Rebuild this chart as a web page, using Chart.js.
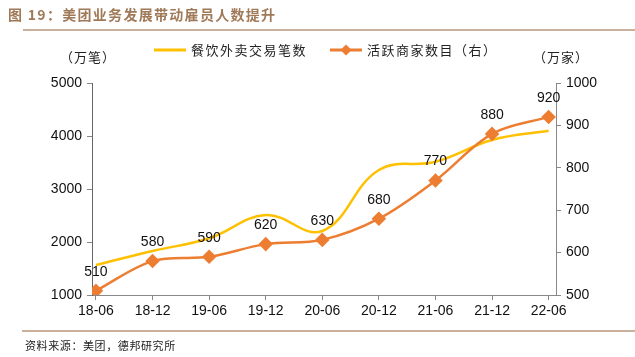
<!DOCTYPE html>
<html>
<head>
<meta charset="utf-8">
<script src="https://cdn.jsdelivr.net/npm/chart.js@4.4.1/dist/chart.umd.min.js"></script>
<style>
html,body{margin:0;padding:0;background:#fff;}
#wrap{width:635px;height:357px;position:relative;}
</style>
</head>
<body>
<div id="wrap"><canvas id="c" width="635" height="357"></canvas></div>
<script>
const categories = ['18-06','18-12','19-06','19-12','20-06','20-12','21-06','21-12','22-06'];
const ordersSeries = [1566, 1830, 2070, 2510, 2208, 3358, 3515, 3925, 4100];
const merchantsSeries = [510, 580, 590, 620, 630, 680, 770, 880, 920];
const leftTicks = [1000, 2000, 3000, 4000, 5000];
const rightTicks = [500, 600, 700, 800, 900, 1000];
const seriesNames = ['餐饮外卖交易笔数', '活跃商家数目（右）'];
const titleText = '图 19：美团业务发展带动雇员人数提升';
const sourceText = '资料来源：美团，德邦研究所';
const leftUnit = '（万笔）';
const rightUnit = '（万家）';

const YELLOW = '#FFC000';
const ORANGE = '#ED7D31';
const BROWN = '#A07A58';
const NUMFONT = '"Liberation Sans", Arial, sans-serif';
const CJKFONT = '"Noto Sans CJK SC", sans-serif';

function spaced(ctx, text, x, y, sp) {
  let cx = x;
  for (const ch of text) {
    ctx.fillText(ch, cx, y);
    cx += ctx.measureText(ch).width + sp;
  }
  return cx;
}

const decor = {
  id: 'decor',
  afterDraw(chart) {
    const ctx = chart.ctx;
    ctx.save();
    // title
    ctx.fillStyle = BROWN;
    ctx.font = 'bold 14px ' + CJKFONT;
    ctx.textBaseline = 'middle';
    ctx.textAlign = 'left';
    spaced(ctx, titleText, 8, 15, 1.3);
    ctx.strokeStyle = '#B8977A';
    ctx.lineWidth = 1.5;
    ctx.beginPath(); ctx.moveTo(23, 30); ctx.lineTo(635, 30); ctx.stroke();
    ctx.beginPath(); ctx.moveTo(22, 331); ctx.lineTo(635, 331); ctx.stroke();
    // source
    ctx.fillStyle = '#222';
    ctx.font = '11px ' + CJKFONT;
    spaced(ctx, sourceText, 25, 346, 0.6);
    // units
    ctx.font = '13px ' + CJKFONT;
    ctx.fillStyle = '#222';
    spaced(ctx, leftUnit, 60, 57, 1);
    spaced(ctx, rightUnit, 533, 57, 1);
    // legend
    ctx.lineWidth = 3;
    ctx.strokeStyle = YELLOW;
    ctx.beginPath(); ctx.moveTo(154, 50); ctx.lineTo(186, 50); ctx.stroke();
    ctx.font = '13px ' + CJKFONT;
    ctx.fillStyle = '#222';
    spaced(ctx, seriesNames[0], 191, 50, 1.5);
    ctx.strokeStyle = ORANGE;
    ctx.beginPath(); ctx.moveTo(330, 50); ctx.lineTo(362, 50); ctx.stroke();
    ctx.fillStyle = ORANGE;
    ctx.beginPath(); ctx.moveTo(346, 44.5); ctx.lineTo(351.5, 50); ctx.lineTo(346, 55.5); ctx.lineTo(340.5, 50); ctx.closePath(); ctx.fill();
    ctx.fillStyle = '#222';
    spaced(ctx, seriesNames[1], 367, 50, 1.5);
    // data labels
    const meta = chart.getDatasetMeta(1);
    ctx.font = '14px ' + NUMFONT;
    ctx.fillStyle = '#111';
    ctx.textAlign = 'center';
    ctx.textBaseline = 'middle';
    meta.data.forEach((pt, i) => {
      ctx.fillText(String(merchantsSeries[i]), pt.x, pt.y - 19);
    });
    ctx.restore();
  }
};

new Chart(document.getElementById('c'), {
  type: 'line',
  data: {
    datasets: [
      {
        label: seriesNames[0],
        data: ordersSeries.map((v, i) => ({x: i, y: v})),
        borderColor: YELLOW,
        backgroundColor: YELLOW,
        borderWidth: 2.5,
        pointRadius: 0,
        tension: 0.4,
        yAxisID: 'y',
        order: 2
      },
      {
        label: seriesNames[1],
        data: merchantsSeries.map((v, i) => ({x: i, y: v})),
        borderColor: ORANGE,
        backgroundColor: ORANGE,
        borderWidth: 2.5,
        pointStyle: 'rectRot',
        pointRadius: 5.5,
        pointHoverRadius: 5.5,
        tension: 0.35,
        yAxisID: 'y1',
        order: 1
      }
    ]
  },
  options: {
    responsive: false,
    animation: false,
    events: [],
    layout: {padding: {top: 83, left: 0, right: 0, bottom: 0}},
    plugins: {legend: {display: false}, tooltip: {enabled: false}},
    scales: {
      x: {
        type: 'linear',
        min: -0.07,
        max: 8.13,
        afterBuildTicks(s) { s.ticks = categories.map((c, i) => ({value: i})); },
        afterFit(s) { s.height = 62; },
        ticks: {
          callback: (v) => categories[v] ?? '',
          font: {family: NUMFONT, size: 14},
          color: '#111',
          maxRotation: 0,
          autoSkip: false,
          padding: 3
        },
        grid: {display: true, drawOnChartArea: false, tickLength: 5, color: '#888'},
        border: {color: '#888', width: 1}
      },
      y: {
        position: 'left',
        min: 1000,
        max: 5000,
        afterBuildTicks(s) { s.ticks = leftTicks.map(v => ({value: v})); },
        afterFit(s) { s.width = 92; },
        ticks: {font: {family: NUMFONT, size: 14}, color: '#111', padding: 5, callback: (v) => String(v)},
        grid: {display: true, drawOnChartArea: false, tickLength: 5, color: '#888'},
        border: {color: '#666', width: 1}
      },
      y1: {
        position: 'right',
        min: 500,
        max: 1000,
        afterBuildTicks(s) { s.ticks = rightTicks.map(v => ({value: v})); },
        afterFit(s) { s.width = 79; },
        ticks: {font: {family: NUMFONT, size: 14}, color: '#111', padding: 5, callback: (v) => String(v)},
        grid: {display: true, drawOnChartArea: false, tickLength: 5, color: '#888'},
        border: {color: '#888', width: 1}
      }
    }
  },
  plugins: [decor]
});
</script>
</body>
</html>
